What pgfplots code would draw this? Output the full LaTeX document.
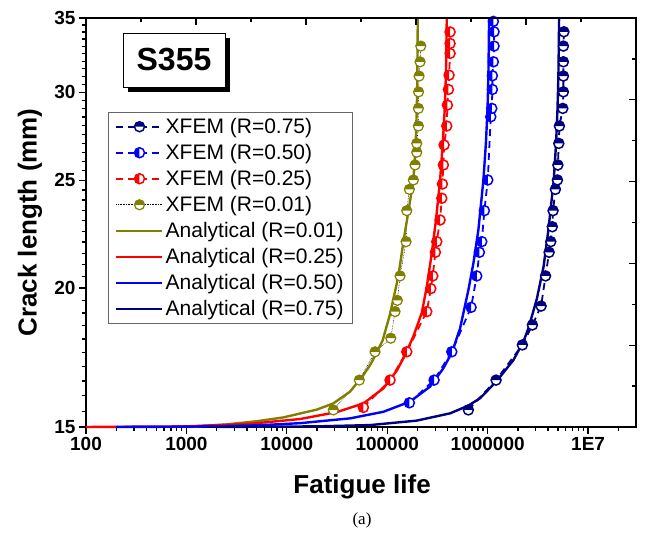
\documentclass[border=0pt]{standalone}
\usepackage{pgfplots}
\pgfplotsset{compat=1.18}
\usepackage{fontspec}
\setmainfont{Liberation Sans}
\newfontfamily\seriffont{Liberation Serif}
\definecolor{olivec}{RGB}{128,128,0}
\definecolor{navyc}{RGB}{0,0,128}
\definecolor{redc}{RGB}{255,0,0}
\definecolor{bluec}{RGB}{0,0,255}
\pgfdeclareplotmark{hc}{%
  \begin{pgfscope}\pgfsetfillcolor{white}\pgfpathcircle{\pgfpointorigin}{\pgfplotmarksize}\pgfusepathqfill\end{pgfscope}%
  \pgfpathmoveto{\pgfqpoint{\pgfplotmarksize}{0pt}}%
  \pgfpatharc{0}{180}{\pgfplotmarksize}%
  \pgfpathclose
  \pgfusepathqfill
  \pgfpathcircle{\pgfpointorigin}{\pgfplotmarksize}%
  \pgfusepathqstroke
}
\begin{document}
\begin{tikzpicture}
\path[use as bounding box] (-86pt,-109pt) rectangle (559pt,427pt);
\begin{axis}[
 at={(0pt,0pt)}, anchor=south west,
 scale only axis, width=550pt, height=409pt,
 xmode=log, ymode=log,
 xmin=100, xmax=3e7, ymin=15, ymax=35,
 axis x line*=bottom, axis y line*=left,
 axis line style={line width=1.5pt, black, line cap=rect},
 tick align=outside,
 major tick length=7pt, minor tick length=4pt,
 tick style={black, line width=1.3pt},
 xtick={100,1000,10000,100000,1000000,10000000},
 xticklabels={100,1000,10000,100000,1000000,1E7},
 minor xtick={200,300,400,500,600,700,800,900,2000,3000,4000,5000,6000,7000,8000,9000,20000,30000,40000,50000,60000,70000,80000,90000,200000,300000,400000,500000,600000,700000,800000,900000,2000000,3000000,4000000,5000000,6000000,7000000,8000000,9000000,20000000},
 ytick={15,20,25,30,35}, yticklabels={15,20,25,30,35},
 minor ytick={15.5,16,16.5,17,17.5,18,18.5,19,19.5,20.5,21,21.5,22,22.5,23,23.5,24,24.5,25.5,26,26.5,27,27.5,28,28.5,29,29.5,30.5,31,31.5,32,32.5,33,33.5,34,34.5},
 ticklabel style={font=\bfseries\fontsize{19}{21}\selectfont},
 xlabel={Fatigue life}, ylabel={Crack length (mm)},
 label style={font=\bfseries\fontsize{26}{30}\selectfont},
 xlabel style={at={(axis description cs:0.502,-0.147)}, anchor=center},
 ylabel style={at={(axis description cs:-0.102,0.5)}, anchor=center},
 clip=false,
 legend cell align=left,
 legend image code/.code={\draw[mark repeat=2,mark phase=2,#1] plot coordinates {(0pt,0pt) (23pt,0pt) (46pt,0pt)};},
 legend style={at={(axis description cs:0.04,0.77)}, anchor=north west,
   draw=black!60, line width=0.6pt, font=\fontsize{21}{23}\selectfont,
   inner xsep=7pt, inner ysep=4pt, row sep=5.3pt,
   /tikz/every even column/.append style={column sep=7pt}},
]
% XFEM R=0.75
\addplot[navyc, line width=1.8pt, dash pattern=on 7pt off 5pt, mark=hc, mark size=5pt,
  mark options={solid, fill=navyc, line width=1.5pt}] coordinates {
(642400,15.54) (1212500,16.53) (2216000,17.78) (2788000,18.53) (3403000,19.27)
(3770000,20.51) (4090000,21.54) (4250000,22.02) (4400000,22.71) (4480000,23.48)
(4725000,24.54) (4950000,25.02) (5000000,25.81) (5108000,26.99) (5178000,27.98)
(5598000,29.02) (5675000,30.03) (5675000,31.03) (5675000,31.96) (5675000,33.02) (5740000,34.01)};
\addlegendentry{XFEM (R=0.75)}
% XFEM R=0.50
\addplot[bluec, line width=1.8pt, dash pattern=on 7pt off 5pt, mark=hc, mark size=5pt,
  mark options={solid, fill=bluec, line width=1.5pt, rotate=90}] coordinates {
(166000,15.77) (292600,16.53) (439100,17.53) (683300,19.22) (778700,20.51)
(826700,21.54) (873500,22.02) (927200,23.48) (1002300,25.02) (1073600,28.52)
(1098400,29.02) (1113700,30.18) (1113700,31.05) (1139600,31.96) (1157900,33.02)
(1157900,34.01) (1139600,34.75)};
\addlegendentry{XFEM (R=0.50)}
% XFEM R=0.25
\addplot[redc, line width=1.8pt, dash pattern=on 7pt off 5pt, mark=hc, mark size=5pt,
  mark options={solid, fill=redc, line width=1.5pt, rotate=90}] coordinates {
(57810,15.62) (106600,16.53) (156400,17.53) (247500,19.05) (271300,19.98)
(284000,20.51) (301500,21.54) (311300,22.02) (335800,23.03) (349100,24.09)
(354000,24.81) (362200,25.81) (368000,26.9) (391500,27.98) (397000,29.22)
(406200,30.18) (412700,31.09) (422300,32.52) (422300,33.2) (422300,34.0)};
\addlegendentry{XFEM (R=0.25)}
% XFEM R=0.01
\addplot[black, line width=0.6pt, densely dotted, mark=hc, mark size=5pt,
  mark options={solid, draw=olivec, fill=olivec, line width=1.2pt}] coordinates {
(29060,15.54) (52700,16.53) (75590,17.53) (108400,18.03) (119600,19.05)
(126000,19.5) (134140,20.51) (153900,22.02) (156400,23.48) (166000,24.54)
(181970,25.02) (189200,25.81) (196700,26.5) (196700,26.99) (204100,27.98)
(204100,29.02) (205000,30.03) (207400,31.03) (212200,31.96) (215700,33.02)};
\addlegendentry{XFEM (R=0.01)}
% Analytical R=0.01
\addplot[olivec, line width=2.4pt] coordinates {
(1000,15.0) (2500,15.08) (5000,15.18) (9200,15.3) (19850,15.55) (29000,15.75)
(42600,16.14) (57800,16.7) (67400,17.05) (78600,17.5) (90000,17.95) (106600,18.95)
(129000,20.5) (144700,22.0) (163000,23.5) (182000,25.0) (192000,27.0) (197000,29.0)
(199500,31.0) (200500,33.0) (201300,35.0)};
\addlegendentry{Analytical (R=0.01)}
% Analytical R=0.25
\addplot[redc, line width=2.4pt] coordinates {
(100,15.0) (1000,15.02) (4300,15.1) (13540,15.25) (31400,15.47) (57800,15.75)
(91450,16.25) (124000,16.85) (150000,17.4) (182000,18.1) (220700,19.0) (247500,20.06)
(277600,21.5) (305000,23.0) (335800,25.0) (357000,27.0) (374000,29.0) (383500,31.0)
(388500,33.0) (391500,35.0)};
\addlegendentry{Analytical (R=0.25)}
% Analytical R=0.50
\addplot[bluec, line width=2.4pt] coordinates {
(200,15.0) (1000,15.01) (5000,15.05) (13540,15.12) (42600,15.27) (91450,15.48)
(168700,15.81) (267000,16.31) (362000,16.94) (440000,17.5) (531000,18.4) (642400,19.92)
(720300,21.05) (808000,22.56) (906300,25.0) (960000,27.0) (997000,29.0) (1016000,31.0)
(1026000,33.0) (1032500,35.0)};
\addlegendentry{Analytical (R=0.50)}
% Analytical R=0.75
\addplot[navyc, line width=2.4pt] coordinates {
(2000,15.0) (20000,15.02) (67400,15.06) (196700,15.2) (422300,15.43) (642400,15.68)
(840100,15.92) (1232000,16.5) (1803000,17.23) (2268000,17.9) (2543000,18.4)
(3083000,19.55) (3600000,20.9) (4024000,22.56) (4550000,25.0) (4800000,27.0)
(4960000,29.0) (5060000,31.0) (5110000,33.0) (5140000,35.0)};
\addlegendentry{Analytical (R=0.75)}
\end{axis}
\begin{axis}[
 at={(0pt,0pt)}, anchor=south west,
 scale only axis, width=550pt, height=409pt,
 xmin=0, xmax=10, ymin=0, ymax=10,
 axis x line*=top, axis y line*=right,
 axis line style={line width=1.5pt, black, line cap=rect},
 tick align=inside,
 major tick length=7pt, minor tick length=4pt,
 tick style={black, line width=1.3pt},
 xtick={2,4,6,8}, minor xtick={1,3,5,7,9},
 ytick={2,4,6,8}, minor ytick={1,3,5,7,9},
 xticklabels={}, yticklabels={},
]
\addplot[draw=none] coordinates {(0,0) (10,10)};
\end{axis}
% S355 label box
\fill[black] (42pt,335pt) rectangle (144pt,389pt);
\draw[black, line width=0.8pt, fill=white] (37pt,340pt) rectangle (139pt,394pt);
\node[font=\bfseries\fontsize{32}{36}\selectfont] at (88pt,367pt) {S355};
\node[font=\seriffont\fontsize{17}{20}\selectfont] at (276pt,-93pt) {(a)};
\end{tikzpicture}
\end{document}
